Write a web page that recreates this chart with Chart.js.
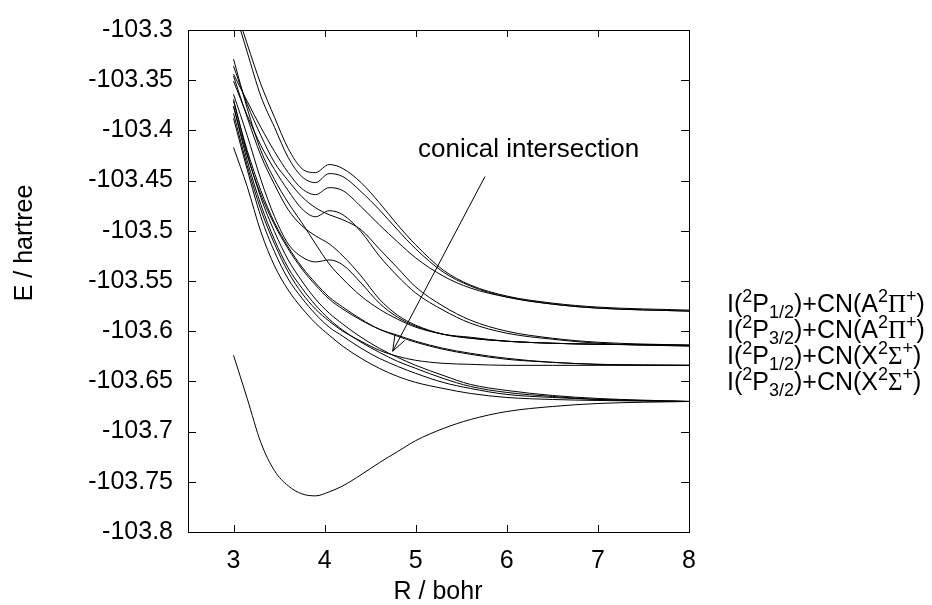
<!DOCTYPE html>
<html>
<head>
<meta charset="utf-8">
<script src="https://cdn.jsdelivr.net/npm/chart.js@4.4.1/dist/chart.umd.min.js"></script>
<style>
  html, body { margin: 0; padding: 0; background: #fff; }
</style>
</head>
<body>
<canvas id="chart" width="932" height="605"></canvas>
<script>
// R grid (bohr) shared by all curves
const R = [3, 3.15, 3.3, 3.45, 3.6, 3.75, 3.9, 4.05, 4.2, 4.4, 4.6, 4.8, 5, 5.3, 5.6, 6, 6.5, 7, 8];

// Energies (hartree)
const ground = [-103.624, -103.667, -103.711, -103.739, -103.754, -103.762, -103.764, -103.760, -103.754, -103.743, -103.731, -103.720, -103.709, -103.697, -103.688, -103.680, -103.675, -103.672, -103.670];

// curves going to I(2P3/2)+CN(X2S+)
const x1 = [-103.417, -103.456, -103.501, -103.535, -103.559, -103.577, -103.592, -103.604, -103.615, -103.627, -103.637, -103.645, -103.651, -103.657, -103.662, -103.666, -103.668, -103.669, -103.670];
const x2 = [-103.388, -103.439, -103.486, -103.521, -103.548, -103.567, -103.583, -103.596, -103.605, -103.617, -103.627, -103.635, -103.642, -103.651, -103.657, -103.663, -103.666, -103.668, -103.670];
const x3 = [-103.376, -103.430, -103.474, -103.509, -103.537, -103.557, -103.574, -103.588, -103.599, -103.611, -103.621, -103.630, -103.637, -103.647, -103.655, -103.661, -103.665, -103.668, -103.670];
const x4 = [-103.369, -103.423, -103.467, -103.501, -103.529, -103.550, -103.568, -103.582, -103.593, -103.606, -103.617, -103.626, -103.634, -103.644, -103.653, -103.659, -103.664, -103.667, -103.670];

// curves going to I(2P1/2)+CN(X2S+)
const y1 = [-103.376, -103.425, -103.464, -103.494, -103.518, -103.538, -103.554, -103.568, -103.578, -103.589, -103.598, -103.604, -103.610, -103.617, -103.622, -103.627, -103.631, -103.633, -103.634];
const y2 = [-103.371, -103.420, -103.460, -103.492, -103.516, -103.536, -103.552, -103.566, -103.576, -103.588, -103.598, -103.605, -103.611, -103.618, -103.623, -103.628, -103.631, -103.633, -103.634];
const y3 = [-103.383, -103.435, -103.479, -103.513, -103.541, -103.562, -103.578, -103.590, -103.600, -103.610, -103.619, -103.625, -103.629, -103.632, -103.633, -103.634, -103.634, -103.634, -103.634];

// curves going to I(2P3/2)+CN(A2Pi+)
const s1 = [-103.329, -103.378, -103.420, -103.449, -103.472, -103.492, -103.513, -103.533, -103.548, -103.565, -103.578, -103.588, -103.596, -103.603, -103.607, -103.610, -103.612, -103.613, -103.614];
const m1 = [-103.336, -103.374, -103.405, -103.432, -103.450, -103.466, -103.477, -103.484, -103.489, -103.499, -103.518, -103.537, -103.556, -103.575, -103.589, -103.600, -103.607, -103.611, -103.614];
const m2 = [-103.351, -103.385, -103.415, -103.439, -103.460, -103.478, -103.486, -103.480, -103.484, -103.501, -103.525, -103.545, -103.562, -103.579, -103.592, -103.602, -103.608, -103.612, -103.615];
const m3 = [-103.364, -103.405, -103.449, -103.486, -103.513, -103.526, -103.531, -103.529, -103.534, -103.552, -103.572, -103.586, -103.595, -103.603, -103.606, -103.610, -103.612, -103.613, -103.614];
const m4 = [-103.346, -103.387, -103.425, -103.454, -103.479, -103.495, -103.505, -103.513, -103.525, -103.545, -103.568, -103.584, -103.594, -103.603, -103.607, -103.610, -103.612, -103.613, -103.614];

// curves going to I(2P1/2)+CN(A2Pi+)
const t1 = [-103.272, -103.314, -103.354, -103.387, -103.418, -103.438, -103.442, -103.434, -103.438, -103.452, -103.472, -103.494, -103.514, -103.539, -103.554, -103.565, -103.572, -103.576, -103.579];
const t2 = [-103.277, -103.322, -103.366, -103.397, -103.427, -103.446, -103.452, -103.443, -103.446, -103.461, -103.479, -103.499, -103.518, -103.541, -103.555, -103.566, -103.573, -103.577, -103.580];
const t3 = [-103.344, -103.371, -103.397, -103.421, -103.442, -103.458, -103.464, -103.457, -103.460, -103.476, -103.494, -103.511, -103.527, -103.545, -103.557, -103.566, -103.573, -103.577, -103.580];

const curves = [ground, x1, x2, x3, x4, y1, y2, y3, s1, m1, m2, m3, m4, t1, t2, t3];

// asymptote labels (top to bottom)
const asymLabels = [
    [['I(', 'n'], ['2', 'sup'], ['P', 'n'], ['1/2', 'sub'], [')+CN(A', 'n'], ['2', 'sup'], ['\u03A0', 'g'], ['+', 'sup'], [')', 'n']],
    [['I(', 'n'], ['2', 'sup'], ['P', 'n'], ['3/2', 'sub'], [')+CN(A', 'n'], ['2', 'sup'], ['\u03A0', 'g'], ['+', 'sup'], [')', 'n']],
    [['I(', 'n'], ['2', 'sup'], ['P', 'n'], ['1/2', 'sub'], [')+CN(X', 'n'], ['2', 'sup'], ['\u03A3', 'g'], ['+', 'sup'], [')', 'n']],
    [['I(', 'n'], ['2', 'sup'], ['P', 'n'], ['3/2', 'sub'], [')+CN(X', 'n'], ['2', 'sup'], ['\u03A3', 'g'], ['+', 'sup'], [')', 'n']]
];

const FONT = '"Liberation Sans", Arial, sans-serif';
const FSIZE = 25;

// draws frame, inward ticks on all four sides, titles, labels and the arrow
const decorations = {
    id: 'decorations',
    afterDraw(chart) {
        const ctx = chart.ctx;
        const a = chart.chartArea;
        const xs = chart.scales.x;
        const ys = chart.scales.y;
        ctx.save();
        ctx.strokeStyle = '#000';
        ctx.lineWidth = 1;
        ctx.strokeRect(Math.round(a.left) + 0.5, Math.round(a.top) + 0.5, Math.round(a.right - a.left), Math.round(a.bottom - a.top));

        ctx.beginPath();
        for (const t of xs.ticks) {
            const px = Math.round(xs.getPixelForValue(t.value)) + 0.5;
            ctx.moveTo(px, a.bottom);
            ctx.lineTo(px, a.bottom - 7);
            ctx.moveTo(px, a.top);
            ctx.lineTo(px, a.top + 7);
        }
        for (const t of ys.ticks) {
            const py = Math.round(ys.getPixelForValue(t.value)) + 0.5;
            ctx.moveTo(a.left, py);
            ctx.lineTo(a.left + 8, py);
            ctx.moveTo(a.right, py);
            ctx.lineTo(a.right - 8, py);
        }
        ctx.stroke();

        ctx.fillStyle = '#000';
        ctx.font = FSIZE + 'px ' + FONT;
        // axis titles
        ctx.textAlign = 'center';
        ctx.textBaseline = 'alphabetic';
        ctx.fillText('R / bohr', 438, 599);
        ctx.save();
        ctx.translate(32, 243);
        ctx.rotate(-Math.PI / 2);
        ctx.fillText('E / hartree', 0, 0);
        ctx.restore();

        // annotation
        ctx.textAlign = 'left';
        ctx.font = '26px ' + FONT;
        ctx.fillText('conical intersection', 418, 157);
        const tail = [xs.getPixelForValue(5.76), ys.getPixelForValue(-103.446)];
        const tip = [xs.getPixelForValue(4.747), ys.getPixelForValue(-103.620)];
        const ang = Math.atan2(tip[1] - tail[1], tip[0] - tail[0]);
        ctx.beginPath();
        ctx.moveTo(tail[0], tail[1]);
        ctx.lineTo(tip[0], tip[1]);
        for (const s of [-1, 1]) {
            ctx.moveTo(tip[0], tip[1]);
            ctx.lineTo(tip[0] - 16 * Math.cos(ang + s * 0.35), tip[1] - 16 * Math.sin(ang + s * 0.35));
        }
        ctx.stroke();

        // asymptote labels
        const baselines = [312, 338, 364, 390];
        asymLabels.forEach((parts, i) => {
            let x = 727;
            const base = baselines[i];
            for (const [txt, kind] of parts) {
                let dy = 0;
                if (kind === 'sup') { ctx.font = '18px ' + FONT; dy = -10; }
                else if (kind === 'sub') { ctx.font = '18px ' + FONT; dy = 6; }
                else if (kind === 'g') { ctx.font = FSIZE + 'px "Liberation Serif", serif'; }
                else { ctx.font = FSIZE + 'px ' + FONT; }
                ctx.fillText(txt, x, base + dy);
                x += ctx.measureText(txt).width;
            }
        });
        ctx.restore();
    }
};

Chart.defaults.font.family = FONT;
Chart.defaults.font.size = FSIZE;
Chart.defaults.color = '#000';

new Chart(document.getElementById('chart'), {
    type: 'line',
    data: {
        datasets: curves.map(c => ({
            data: R.map((r, i) => ({ x: r, y: c[i] })),
            borderColor: '#000',
            borderWidth: 1,
            pointRadius: 0,
            fill: false,
            cubicInterpolationMode: 'monotone'
        }))
    },
    options: {
        responsive: false,
        animation: false,
        layout: { padding: { top: 23, right: 243, left: 0, bottom: 0 } },
        plugins: { legend: { display: false }, tooltip: { enabled: false } },
        scales: {
            x: {
                type: 'linear',
                min: 2.5,
                max: 8,
                grid: { display: false, drawTicks: false },
                border: { display: false },
                ticks: { stepSize: 1, includeBounds: false, padding: 14 },
                afterFit(scale) { scale.height = 73; }
            },
            y: {
                type: 'linear',
                min: -103.8,
                max: -103.3,
                grid: { display: false, drawTicks: false },
                border: { display: false },
                ticks: {
                    stepSize: 0.05,
                    padding: 15,
                    callback: v => String(Number(v.toFixed(2)))
                },
                afterFit(scale) { scale.width = 188; }
            }
        }
    },
    plugins: [decorations]
});
</script>
</body>
</html>
